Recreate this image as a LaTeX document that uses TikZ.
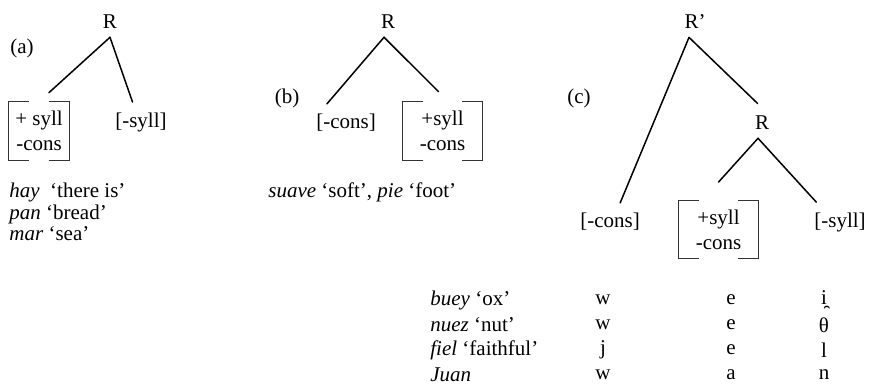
\documentclass[tikz,border=0pt]{standalone}
\usepackage{fontspec}
\setmainfont{Liberation Serif}
\usetikzlibrary{positioning}

% square brackets round a feature matrix node
\newcommand{\featbrackets}[1]{%
  \draw[brack] ([xshift=10pt]#1.north west) -- (#1.north west) -- (#1.south west) -- ([xshift=10pt]#1.south west);
  \draw[brack] ([xshift=-10pt]#1.north east) -- (#1.north east) -- (#1.south east) -- ([xshift=-10pt]#1.south east);}

\begin{document}
\begin{tikzpicture}[
    x=0.5pt, y=-0.5pt,
    txt/.style={font=\fontsize{10.5pt}{12.5pt}\selectfont, inner sep=1pt},
    treenode/.style={txt, inner sep=4pt},
    leaf/.style={txt, inner sep=5pt},
    featbox/.style={txt, align=center, minimum width=#1, minimum height=29pt, inner sep=0pt},
    exlist/.style={font=\fontsize{10.5pt}{10.7pt}\selectfont, inner sep=0pt, align=left, anchor=west},
    branch/.style={line width=0.75pt, line cap=round},
    brack/.style={line width=0.5pt, draw=black!80}
]
\useasboundingbox (0,0) rectangle (870,386);

% (a)
\node[txt] (taga) at (22,48) {(a)};
\node[treenode] (Ra) at (110,22) {R};
\node[featbox=30pt] (vowa) at (39,131) {+ syll\\-cons};
\node[leaf] (sylla) at (141,122) {[-syll]};
\node[exlist] (exa) at (9,212) {\textit{hay}~ ‘there is’\\\textit{pan} ‘bread’\\\textit{mar} ‘sea’};

% (b)
\node[txt] (tagb) at (287,98) {(b)};
\node[treenode] (Rb) at (388,22) {R};
\node[leaf] (consb) at (346,123) {[-cons]};
\node[featbox=39.5pt] (vowb) at (442.5,131) {+syll\\-cons};
\node[exlist] (exb) at (268,192) {\textit{suave} ‘soft’, \textit{pie} ‘foot’};

% (c)
\node[txt] (tagc) at (579,98) {(c)};
\node[treenode] (Rp) at (695,22) {R’};
\node[treenode] (Rc) at (762,123) {R};
\node[leaf] (consc) at (610,222) {[-cons]};
\node[featbox=39.5pt] (vowc) at (718.5,229.5) {+syll\\-cons};
\node[leaf] (syllc) at (840,222) {[-syll]};

% brackets
\featbrackets{vowa}
\featbrackets{vowb}
\featbrackets{vowc}

% branches
\draw[branch] (Ra.south) -- ([shift={(10,-9)}]vowa.north);
\draw[branch] (Ra.south) -- (sylla.113);
\draw[branch] ([xshift=-2pt]Rb.south) -- (consb.135);
\draw[branch] ([xshift=-2pt]Rb.south) -- ([shift={(-4,-10)}]vowb.north);
\draw[branch] ([xshift=-3pt]Rp.south) -- (consc.62);
\draw[branch, shorten >=3pt] ([xshift=-3pt]Rp.south) -- (Rc.north);
\draw[branch] ([xshift=-2pt]Rc.south) -- ([shift={(0,-18)}]vowc.north);
\draw[branch] ([xshift=-2pt]Rc.south) -- (syllc.140);

% table of words
\node[txt, anchor=west] (buey) at (428,300) {\textit{buey} ‘ox’};
\node[txt, anchor=west] (nuez) at (428,325) {\textit{nuez} ‘nut’};
\node[txt, anchor=west] (fiel) at (428,350) {\textit{fiel} ‘faithful’};
\node[txt, anchor=west] (juan) at (428,375) {\textit{Juan}};
\node[txt] (bueyw) at (603,300) {w};
\node[txt] (nuezw) at (603,325) {w};
\node[txt] (fielj) at (603,350) {j};
\node[txt] (juanw) at (603,375) {w};
\node[txt] (bueye) at (731,300) {e};
\node[txt] (nueze) at (731,325) {e};
\node[txt] (fiele) at (731,350) {e};
\node[txt] (juana) at (731,375) {a};
\node[txt] (bueyi) at (824,300) {i̯};
\node[txt] (nuezth) at (824,325) {θ};
\node[txt] (fiell) at (824,350) {l};
\node[txt] (juann) at (824,375) {n};

\end{tikzpicture}
\end{document}
